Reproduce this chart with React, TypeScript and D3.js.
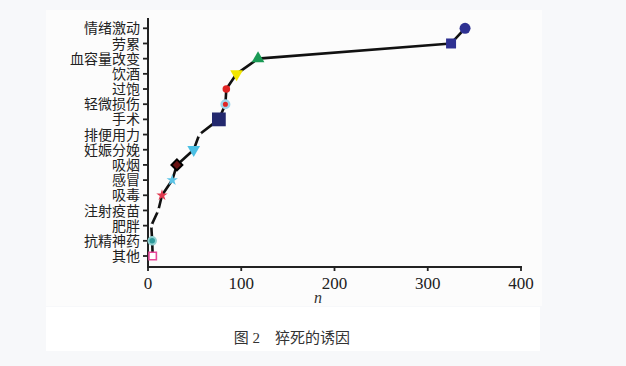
import React from 'react';
import * as d3 from 'd3';

const categories = ['情绪激动', '劳累', '血容量改变', '饮酒', '过饱', '轻微损伤', '手术', '排便用力', '妊娠分娩', '吸烟', '感冒', '吸毒', '注射疫苗', '肥胖', '抗精神药', '其他'];
const counts = [340, 325, 118, 95, 84, 83, 76, 55, 49, 31, 26, 15, 11, 3.5, 4.5, 5];
const xTicks = [0, 100, 200, 300, 400];
const xLabel = 'n';
const caption = '图 2　猝死的诱因';

// marker look for each category, same order as categories
const markers = [
  { shape: 'circle', size: 95, fill: '#2e3192', stroke: 'none' },
  { shape: 'square', size: 100, fill: '#2e3192', stroke: 'none' },
  { shape: 'triangle', size: 70, fill: '#1a9a55', stroke: 'none' },
  { shape: 'triangleDown', size: 70, fill: '#f2e600', stroke: 'none' },
  { shape: 'circle', size: 45, fill: '#e02424', stroke: 'none' },
  { shape: 'circle', size: 45, fill: '#e02424', stroke: '#9fd4ea', ring: 2.5 },
  { shape: 'square', size: 190, fill: '#23286e', stroke: 'none' },
  { shape: 'circle', size: 18, fill: '#ffffff', stroke: 'none' },
  { shape: 'triangleDown', size: 70, fill: '#4cc0e4', stroke: 'none' },
  { shape: 'diamond', size: 60, fill: '#6a1212', stroke: '#000', ring: 2 },
  { shape: 'star', size: 40, fill: '#5cc4e6', stroke: 'none' },
  { shape: 'star', size: 40, fill: '#e03a50', stroke: 'none' },
  { shape: 'circle', size: 18, fill: '#ffffff', stroke: 'none' },
  { shape: 'circle', size: 14, fill: '#ffffff', stroke: 'none' },
  { shape: 'circle', size: 45, fill: '#2f9a9a', stroke: '#8fd0d0', ring: 2 },
  { shape: 'square', size: 55, fill: '#ffffff', stroke: '#e8489a', ring: 1.6 },
];

const symbolTypes: Record<string, any> = {
  circle: d3.symbolCircle,
  square: d3.symbolSquare,
  triangle: d3.symbolTriangle,
  triangleDown: d3.symbolTriangle,
  diamond: d3.symbolSquare,
  star: d3.symbolStar,
};

const W = 626;
const H = 366;

export default function App() {
  const x = d3.scaleLinear().domain([0, 400]).range([148, 521]);
  const y = d3.scalePoint<string>().domain(categories).range([28.3, 256]);
  const axisY = 267;
  const axisTop = 18;

  const pts = categories.map((c, i) => ({ c, v: counts[i] }));
  const line = d3
    .line<{ c: string; v: number }>()
    .x((d) => x(d.v))
    .y((d) => y(d.c) as number);

  const serif = '"Liberation Serif", "DejaVu Serif", serif';
  const cjk = '"Noto Sans CJK SC", sans-serif';

  return (
    <svg width={W} height={H} style={{ position: 'absolute', left: 0, top: 0 }} fontFamily={serif}>
      <rect x={0} y={0} width={W} height={H} fill="#f7f8fa" />
      <rect x={46} y={10} width={496} height={296} fill="#fcfcfc" />
      <rect x={46} y={307} width={494} height={44} fill="#ffffff" />

      {/* y axis */}
      <line x1={148} x2={148} y1={axisTop} y2={axisY} stroke="#222" strokeWidth={2} />
      {categories.map((c) => (
        <g key={c} transform={`translate(0,${y(c)})`}>
          <line x1={143} x2={148} y1={0} y2={0} stroke="#222" strokeWidth={1.8} />
          <text x={140} y={0} dy="0.36em" textAnchor="end" fontSize={14} fontFamily={cjk} fill="#222">
            {c}
          </text>
        </g>
      ))}

      {/* x axis */}
      <line x1={147} x2={522} y1={axisY} y2={axisY} stroke="#222" strokeWidth={2} />
      {xTicks.map((t) => (
        <g key={t} transform={`translate(${x(t)},0)`}>
          <line x1={0} x2={0} y1={axisY} y2={axisY + 4} stroke="#222" strokeWidth={1.8} />
          <text x={0} y={axisY + 22} textAnchor="middle" fontSize={17} fill="#222">
            {t}
          </text>
        </g>
      ))}
      <text x={318} y={303} textAnchor="middle" fontSize={16} fontStyle="italic" fill="#333">
        {xLabel}
      </text>

      <path d={line(pts) ?? ''} fill="none" stroke="#111" strokeWidth={2.6} strokeLinejoin="round" />

      {pts.map((p, i) => {
        const m = markers[i];
        const sym = d3.symbol(symbolTypes[m.shape], m.size)() ?? '';
        const rot = m.shape === 'triangleDown' ? 180 : m.shape === 'diamond' ? 45 : 0;
        return (
          <path
            key={p.c}
            d={sym}
            transform={`translate(${x(p.v)},${y(p.c)}) rotate(${rot})`}
            fill={m.fill}
            stroke={m.stroke}
            strokeWidth={m.ring ?? 0}
          />
        );
      })}

      <text x={292} y={343} textAnchor="middle" fontSize={15} fontFamily={`"Liberation Serif", ${cjk}`} fill="#333">
        {caption}
      </text>
    </svg>
  );
}
